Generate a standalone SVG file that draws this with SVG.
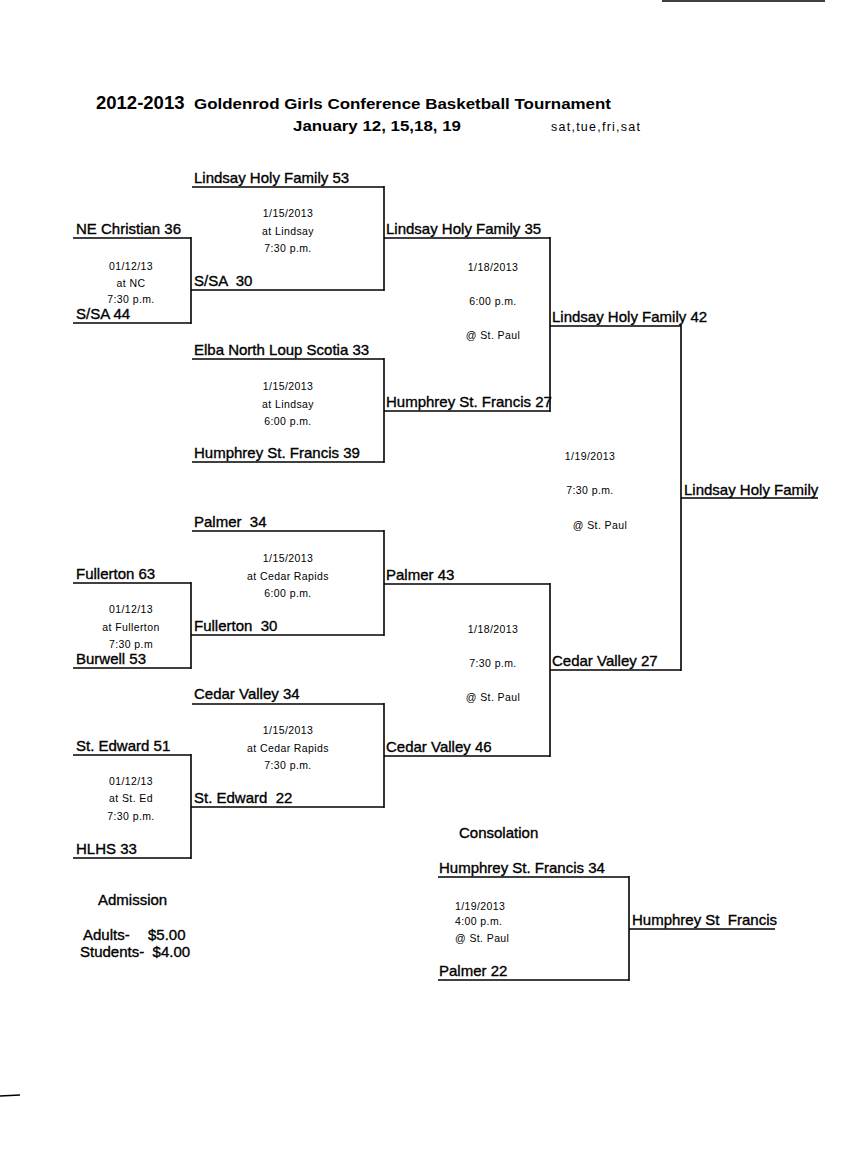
<svg xmlns="http://www.w3.org/2000/svg" width="850" height="1170" viewBox="0 0 850 1170">
<style>
text{font-family:"Liberation Sans",Arial,sans-serif;fill:#000;white-space:pre}
.t{font-size:15px;stroke:#000;stroke-width:0.35}
.s{font-size:10.5px;text-anchor:middle;letter-spacing:0.4px}
.sl{font-size:10.5px;letter-spacing:0.4px}
.h{font-weight:bold}
#connectors line{stroke:#000;stroke-width:1.6;fill:none}
</style>
<rect width="850" height="1170" fill="#fff"/>
<g id="title">
<text x="96" y="109" class="h" font-size="18.5">2012-2013</text>
<text x="194" y="109" class="h" font-size="15.5" textLength="417" lengthAdjust="spacingAndGlyphs">Goldenrod Girls Conference Basketball Tournament</text>
<text x="293" y="131" class="h" font-size="15.5" textLength="168" lengthAdjust="spacingAndGlyphs">January 12, 15,18, 19</text>
<text x="551" y="131" font-size="12.5" textLength="89">sat,tue,fri,sat</text>
</g>
<g id="connectors">
<line x1="73" y1="238" x2="191" y2="238"/><line x1="73" y1="323" x2="191" y2="323"/><line x1="191" y1="237" x2="191" y2="324"/>
<line x1="192" y1="187" x2="384" y2="187"/><line x1="191" y1="290" x2="384" y2="290"/><line x1="384" y1="186" x2="384" y2="291"/>
<line x1="192" y1="359" x2="384" y2="359"/><line x1="192" y1="462" x2="384" y2="462"/><line x1="384" y1="358" x2="384" y2="463"/>
<line x1="384" y1="238" x2="550" y2="238"/><line x1="384" y1="411" x2="550" y2="411"/><line x1="550" y1="237" x2="550" y2="412"/>
<line x1="550" y1="326" x2="681" y2="326"/>
<line x1="192" y1="531" x2="384" y2="531"/><line x1="191" y1="635" x2="384" y2="635"/><line x1="384" y1="530" x2="384" y2="636"/>
<line x1="73" y1="583" x2="191" y2="583"/><line x1="73" y1="668" x2="191" y2="668"/><line x1="191" y1="582" x2="191" y2="669"/>
<line x1="192" y1="704" x2="384" y2="704"/><line x1="191" y1="807" x2="384" y2="807"/><line x1="384" y1="703" x2="384" y2="808"/>
<line x1="73" y1="755" x2="191" y2="755"/><line x1="73" y1="858" x2="191" y2="858"/><line x1="191" y1="754" x2="191" y2="859"/>
<line x1="384" y1="584" x2="550" y2="584"/><line x1="384" y1="756" x2="550" y2="756"/><line x1="550" y1="583" x2="550" y2="757"/>
<line x1="550" y1="670" x2="681" y2="670"/>
<line x1="681" y1="325" x2="681" y2="671"/><line x1="681" y1="498" x2="818" y2="498"/>
<line x1="438" y1="877" x2="629" y2="877"/><line x1="438" y1="980" x2="629" y2="980"/><line x1="629" y1="876" x2="629" y2="981"/>
<line x1="629" y1="929" x2="775" y2="929"/>
<line x1="662" y1="1" x2="825" y2="1"/><line x1="0" y1="1096" x2="20" y2="1095"/>
</g>
<g id="r1-game1">
<text x="76" y="234" class="t">NE Christian 36</text>
<text x="76" y="319" class="t">S/SA 44</text>
<text x="131" y="270" class="s">01/12/13</text>
<text x="131" y="287" class="s">at NC</text>
<text x="131" y="303" class="s">7:30 p.m.</text>
</g>
<g id="r2-game1">
<text x="194" y="183" class="t">Lindsay Holy Family 53</text>
<text x="194" y="286" class="t">S/SA  30</text>
<text x="288" y="217" class="s">1/15/2013</text>
<text x="288" y="235" class="s">at Lindsay</text>
<text x="288" y="252" class="s">7:30 p.m.</text>
</g>
<g id="r2-game2">
<text x="194" y="355" class="t">Elba North Loup Scotia 33</text>
<text x="194" y="458" class="t">Humphrey St. Francis 39</text>
<text x="288" y="390" class="s">1/15/2013</text>
<text x="288" y="408" class="s">at Lindsay</text>
<text x="288" y="425" class="s">6:00 p.m.</text>
</g>
<g id="semi1">
<text x="386" y="234" class="t">Lindsay Holy Family 35</text>
<text x="386" y="407" class="t">Humphrey St. Francis 27</text>
<text x="493" y="271" class="s">1/18/2013</text>
<text x="493" y="305" class="s">6:00 p.m.</text>
<text x="493" y="339" class="s">@ St. Paul</text>
</g>
<g id="final">
<text x="552" y="322" class="t">Lindsay Holy Family 42</text>
<text x="552" y="666" class="t">Cedar Valley 27</text>
<text x="590" y="460" class="s">1/19/2013</text>
<text x="590" y="494" class="s">7:30 p.m.</text>
<text x="600" y="529" class="s">@ St. Paul</text>
</g>
<g id="champion">
<text x="684" y="495" class="t">Lindsay Holy Family</text>
</g>
<g id="r2-game3">
<text x="194" y="527" class="t">Palmer  34</text>
<text x="194" y="631" class="t">Fullerton  30</text>
<text x="288" y="562" class="s">1/15/2013</text>
<text x="288" y="580" class="s">at Cedar Rapids</text>
<text x="288" y="597" class="s">6:00 p.m.</text>
</g>
<g id="r1-game2">
<text x="76" y="579" class="t">Fullerton 63</text>
<text x="76" y="664" class="t">Burwell 53</text>
<text x="131" y="613" class="s">01/12/13</text>
<text x="131" y="631" class="s">at Fullerton</text>
<text x="131" y="648" class="s">7:30 p.m</text>
</g>
<g id="r2-game4">
<text x="194" y="699" class="t">Cedar Valley 34</text>
<text x="194" y="803" class="t">St. Edward  22</text>
<text x="288" y="734" class="s">1/15/2013</text>
<text x="288" y="752" class="s">at Cedar Rapids</text>
<text x="288" y="769" class="s">7:30 p.m.</text>
</g>
<g id="r1-game3">
<text x="76" y="751" class="t">St. Edward 51</text>
<text x="76" y="854" class="t">HLHS 33</text>
<text x="131" y="785" class="s">01/12/13</text>
<text x="131" y="802" class="s">at St. Ed</text>
<text x="131" y="820" class="s">7:30 p.m.</text>
</g>
<g id="semi2">
<text x="386" y="580" class="t">Palmer 43</text>
<text x="386" y="752" class="t">Cedar Valley 46</text>
<text x="493" y="633" class="s">1/18/2013</text>
<text x="493" y="667" class="s">7:30 p.m.</text>
<text x="493" y="701" class="s">@ St. Paul</text>
</g>
<g id="consolation">
<text x="459" y="838" class="t">Consolation</text>
<text x="439" y="873" class="t">Humphrey St. Francis 34</text>
<text x="439" y="976" class="t">Palmer 22</text>
<text x="455" y="910" class="sl">1/19/2013</text>
<text x="455" y="925" class="sl">4:00 p.m.</text>
<text x="455" y="942" class="sl">@ St. Paul</text>
<text x="632" y="925" class="t">Humphrey St  Francis</text>
</g>
<g id="admission">
<text x="98" y="905" class="t">Admission</text>
<text x="83" y="940" class="t">Adults-</text>
<text x="148" y="940" class="t">$5.00</text>
<text x="80" y="957" class="t">Students-  $4.00</text>
</g>
</svg>
